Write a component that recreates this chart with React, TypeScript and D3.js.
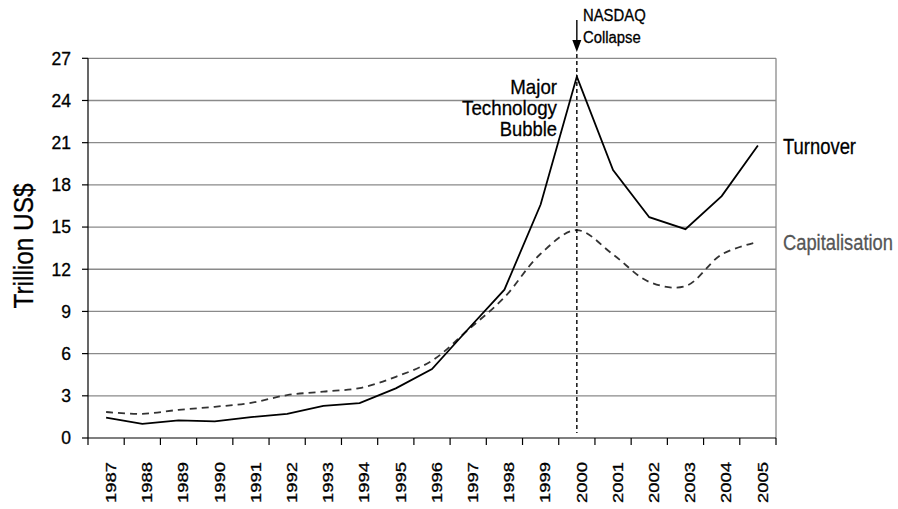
import React from 'react';
import { scaleBand, scaleLinear, line, curveCatmullRom, curveLinear } from 'd3';

const years = ['1987', '1988', '1989', '1990', '1991', '1992', '1993', '1994', '1995', '1996',
  '1997', '1998', '1999', '2000', '2001', '2002', '2003', '2004', '2005'];

// trillion US$
const turnover = [1.45, 1.0, 1.25, 1.18, 1.48, 1.72, 2.28, 2.48, 3.53, 4.9,
  7.75, 10.55, 16.6, 25.7, 19.05, 15.7, 14.85, 17.2, 20.8];
const capitalisation = [1.85, 1.72, 2.0, 2.22, 2.5, 3.05, 3.3, 3.55, 4.35, 5.5,
  7.7, 10.0, 13.1, 14.78, 13.05, 11.1, 10.8, 13.05, 13.95];

const yTicks = [0, 3, 6, 9, 12, 15, 18, 21, 24, 27];
const collapseYear = '2000';
const bubbleLabel = ['Major', 'Technology', 'Bubble'];

const W = 898;
const H = 509;
const left = 88;
const right = 776;
const top = 58.3;
const bottom = 438;

// no Arial Narrow here: squeeze Liberation Sans to the widths of the original
const font = '"Liberation Sans", Arial, sans-serif';

type NarrowProps = {
  x?: number;
  y?: number;
  size: number;
  width: number;
  anchor?: 'start' | 'middle' | 'end';
  fill?: string;
  transform?: string;
  children: string;
};

const Narrow = ({ x, y, size, width, anchor = 'start', fill = '#000', transform, children }: NarrowProps) => (
  <text x={x} y={y} transform={transform} textAnchor={anchor} fontFamily={font} fontSize={size}
    fill={fill} stroke={fill} strokeWidth={0.3} textLength={width} lengthAdjust="spacingAndGlyphs">
    {children}
  </text>
);

const App: React.FC = () => {
  const x = scaleBand<string>().domain(years).range([left, right]);
  const y = scaleLinear().domain([0, 27]).range([bottom, top]);
  const cx = (yr: string) => (x(yr) ?? 0) + x.bandwidth() / 2;

  const turnoverLine = line<number>()
    .x((_, i) => cx(years[i]))
    .y((d) => y(d))
    .curve(curveLinear);
  const capLine = line<number>()
    .x((_, i) => cx(years[i]))
    .y((d) => y(d))
    .curve(curveCatmullRom.alpha(0.5));

  const xc = cx(collapseYear);
  const bubbleWidths = [46.7, 95, 57.3];

  return (
    <svg width={W} height={H} style={{ position: 'absolute', left: 0, top: 0, background: '#fff' }}>
      {/* grid */}
      {yTicks.filter((t) => t > 0).map((t) => (
        <line key={t} x1={left} x2={right} y1={y(t)} y2={y(t)} stroke="#8a8a8a" strokeWidth={1.3} />
      ))}
      <line x1={right} x2={right} y1={top} y2={bottom} stroke="#8a8a8a" strokeWidth={1.3} />

      {/* y axis */}
      <line x1={left} x2={left} y1={top} y2={bottom} stroke="#000" strokeWidth={1.2} />
      {yTicks.map((t) => (
        <g key={t}>
          <line x1={left - 6} x2={left} y1={y(t)} y2={y(t)} stroke="#000" strokeWidth={1.2} />
          <text x={71} y={y(t)} dy="0.36em" textAnchor="end" fontFamily={font} fontSize={17.5}
            stroke="#000" strokeWidth={0.3}>{t}</text>
        </g>
      ))}
      <Narrow transform="translate(33,246) rotate(-90)" anchor="middle" size={28} width={125}>Trillion US$</Narrow>

      {/* x axis */}
      <line x1={left} x2={right} y1={bottom} y2={bottom} stroke="#000" strokeWidth={1.2} />
      {years.map((yr) => (
        <line key={'t' + yr} x1={x(yr)} x2={x(yr)} y1={bottom} y2={bottom + 7} stroke="#000" strokeWidth={1.2} />
      ))}
      <line x1={right} x2={right} y1={bottom} y2={bottom + 7} stroke="#000" strokeWidth={1.2} />
      {years.map((yr) => (
        <Narrow key={yr} transform={`translate(${cx(yr) + 9.8},462) rotate(-90)`} anchor="end"
          size={15.5} width={41}>{yr}</Narrow>
      ))}

      {/* series */}
      <path d={capLine(capitalisation) ?? ''} fill="none" stroke="#333" strokeWidth={1.8} strokeDasharray="7,5" />
      <path d={turnoverLine(turnover) ?? ''} fill="none" stroke="#000" strokeWidth={1.8} />

      {/* NASDAQ collapse */}
      <line x1={xc} x2={xc} y1={54} y2={bottom - 5} stroke="#000" strokeWidth={1.4} strokeDasharray="4,3" />
      <line x1={xc} x2={xc} y1={20} y2={42} stroke="#000" strokeWidth={1.4} />
      <path d={`M${xc - 4.5},40 L${xc + 4.5},40 L${xc},52 Z`} fill="#000" />
      <Narrow x={583} y={20.7} size={16} width={62.7}>NASDAQ</Narrow>
      <Narrow x={583} y={43.3} size={16} width={57.7}>Collapse</Narrow>

      {bubbleLabel.map((s, i) => (
        <Narrow key={s} x={557} y={94.3 + i * 21} anchor="end" size={21} width={bubbleWidths[i]}>{s}</Narrow>
      ))}

      {/* series labels */}
      <Narrow x={783} y={154} size={22} width={73}>Turnover</Narrow>
      <Narrow x={783} y={250} size={22} width={110} fill="#555">Capitalisation</Narrow>
    </svg>
  );
};

export default App;
